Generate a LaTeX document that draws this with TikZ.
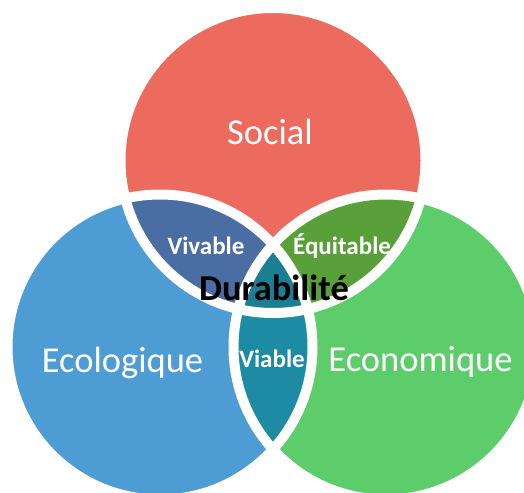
\documentclass[tikz,border=0pt]{standalone}
\usepackage{fontspec}
\setmainfont{Carlito}
\definecolor{socialc}{RGB}{237,106,94}
\definecolor{ecoloc}{RGB}{78,156,212}
\definecolor{econoc}{RGB}{93,204,107}
\definecolor{vivc}{RGB}{74,110,164}
\definecolor{equc}{RGB}{89,160,59}
\definecolor{viac}{RGB}{30,139,164}
\definecolor{durc}{RGB}{28,126,147}
\tikzset{
  bigtxt/.style={text=white, font=\fontsize{36.5}{40}\selectfont, inner sep=0pt},
  smalltxt/.style={text=white, font=\fontsize{25}{28}\selectfont\bfseries, inner sep=0pt},
  durtxt/.style={text=black, font=\fontsize{36.5}{40}\selectfont\bfseries, inner sep=0pt},
  ring/.style={draw=white, line width=10pt}
}
\begin{document}
\begin{tikzpicture}[x=1pt,y=-1pt]
\useasboundingbox (0,0) rectangle (524,492);
\def\R{152.5}
\coordinate (S) at (273,160.5);
\coordinate (L) at (160,347);
\coordinate (E) at (386,347);
% base circles
\fill[socialc] (S) circle[radius=\R];
\fill[ecoloc] (L) circle[radius=\R];
\fill[econoc] (E) circle[radius=\R];
% pairwise intersections
\begin{scope}
  \clip (S) circle[radius=\R];
  \fill[vivc] (L) circle[radius=\R];
  \fill[equc] (E) circle[radius=\R];
\end{scope}
\begin{scope}
  \clip (L) circle[radius=\R];
  \fill[viac] (E) circle[radius=\R];
\end{scope}
% triple intersection
\begin{scope}
  \clip (S) circle[radius=\R];
  \clip (L) circle[radius=\R];
  \fill[durc] (E) circle[radius=\R];
\end{scope}
% labels
\node[bigtxt, anchor=base] (social) at (270,144) {Social};
\node[bigtxt, anchor=base] (ecolo) at (122.5,372) {Ecologique};
\node[bigtxt, anchor=base] (econo) at (420.5,371) {Economique};
\node[smalltxt, anchor=base] (viv) at (206,254) {Vivable};
\node[smalltxt, anchor=base west] (equ) at (293,254) {Équitable};
\node[smalltxt, anchor=base] (via) at (272,367) {Viable};
% white rings
\draw[ring] (S) circle[radius=\R];
\draw[ring] (L) circle[radius=\R];
\draw[ring] (E) circle[radius=\R];
\node[durtxt, anchor=base] (dur) at (274,300) {Durabilité};
\end{tikzpicture}
\end{document}
